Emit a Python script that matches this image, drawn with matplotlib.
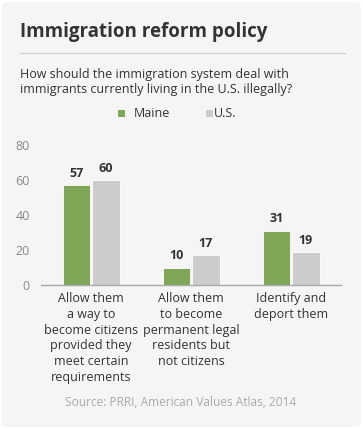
import numpy as np
import matplotlib
matplotlib.use('Agg')
import matplotlib.pyplot as plt
from matplotlib.patches import FancyBboxPatch
from matplotlib.lines import Line2D

plt.rcParams['font.family'] = ['Open Sans', 'DejaVu Sans']

# 数据
categories = ['Allow them\na way to\nbecome citizens\nprovided they\nmeet certain\nrequirements',
              'Allow them\nto become\npermanent legal\nresidents but\nnot citizens',
              'Identify and\ndeport them']
maine = [57, 10, 31]
us = [60, 17, 19]
series_names = ['Maine', 'U.S.']
yticks = [0, 20, 40, 60, 80]

GREEN = '#7fa757'
GRAY = '#cccccc'
BG = '#f5f5f5'

W, H = 363, 429
fig = plt.figure(figsize=(W / 100, H / 100), dpi=100, facecolor='white')

# 背景卡片
card = FancyBboxPatch((2 / W, 2 / H), (W - 4) / W, (H - 4) / H,
                      boxstyle='round,pad=0,rounding_size=0.015',
                      transform=fig.transFigure, facecolor=BG, edgecolor='none',
                      zorder=-10)
fig.patches.append(card)

def fy(py):
    return 1 - py / H

def fx(px):
    return px / W

# 标题与分隔线
fig.text(fx(20), fy(32), 'Immigration reform policy', fontsize=13.5,
         fontweight='bold', color='#333333', va='center', ha='left')
fig.add_artist(Line2D([fx(20), fx(345)], [fy(53), fy(53)],
                      color='#cccccc', lw=0.8, transform=fig.transFigure))
fig.text(fx(20), fy(82), 'How should the immigration system deal with\n'
         'immigrants currently living in the U.S. illegally?',
         fontsize=9.0, color='#333333', va='center', ha='left', linespacing=1.2)

# 图例
fig.add_artist(plt.Rectangle((fx(118), fy(117)), 7 / W, 7 / H, facecolor=GREEN,
                             transform=fig.transFigure, zorder=5))
fig.text(fx(134), fy(113.5), series_names[0], fontsize=9.0, color='#333333', va='center')
fig.add_artist(plt.Rectangle((fx(206), fy(117)), 7 / W, 7 / H, facecolor=GRAY,
                             transform=fig.transFigure, zorder=5))
fig.text(fx(214), fy(113.5), series_names[1], fontsize=9.0, color='#333333', va='center')

# 主图
ax = fig.add_axes([fx(41), fy(285), (341 - 41) / W, (285 - 145) / H])
ax.set_facecolor('none')
x = np.arange(len(categories))
bw = 0.275
ax.bar(x - bw / 2 - 0.01, maine, width=bw, color=GREEN, edgecolor='white', linewidth=0.6)
ax.bar(x + bw / 2 + 0.01, us, width=bw, color=GRAY, edgecolor='white', linewidth=0.6)
for i in range(len(categories)):
    ax.text(x[i] - bw / 2 - 0.01, maine[i] + 3, str(maine[i]), ha='center', va='bottom',
            fontsize=9.0, fontweight='bold', color='#333333')
    ax.text(x[i] + bw / 2 + 0.01, us[i] + 3, str(us[i]), ha='center', va='bottom',
            fontsize=9.0, fontweight='bold', color='#333333')

ax.set_xlim(-0.5, 2.5)
ax.set_ylim(0, 80)
ax.set_yticks(yticks)
ax.set_xticks(x)
ax.set_xticklabels(categories, fontsize=9.0, color='#333333', linespacing=1.28, va='top')
ax.tick_params(axis='y', length=0, pad=8, labelsize=9, labelcolor='#888888')
ax.tick_params(axis='x', length=0, pad=5)
for s in ['top', 'right', 'left']:
    ax.spines[s].set_visible(False)
ax.spines['bottom'].set_color('#aaaaaa')
ax.spines['bottom'].set_linewidth(1.0)

fig.text(fx(181), fy(402), 'Source: PRRI, American Values Atlas, 2014', fontsize=8.6,
         color='#aaaaaa', ha='center', va='center')

fig.savefig('out.png', dpi=100, facecolor='white')
